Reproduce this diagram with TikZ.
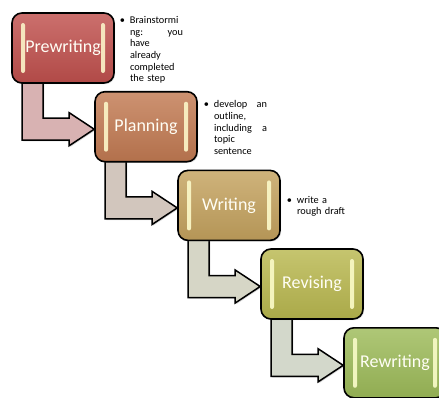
\documentclass[tikz,border=0pt]{standalone}
\usepackage{fontspec}
\setmainfont{Carlito}
\usetikzlibrary{calc,shadows}
\pgfdeclarelayer{background}
\pgfsetlayers{background,main}
\definecolor{cA}{HTML}{C0504D}
\definecolor{cB}{HTML}{C27A52}
\definecolor{cC}{HTML}{C4A25E}
\definecolor{cD}{HTML}{B9B84F}
\definecolor{cE}{HTML}{9DBB59}
\definecolor{aA}{HTML}{D8B2B2}
\definecolor{aB}{HTML}{D2C6BD}
\definecolor{aC}{HTML}{D6D6C6}
\definecolor{aD}{HTML}{D3D8CB}
\newcommand{\jline}[2]{\leavevmode\hbox to 53pt{#1\hfill #2}}
\newcommand{\bulletmark}{\leavevmode\llap{•\hspace{5pt}}}
\tikzset{
  stepbox/.style={draw=black, line width=1.6pt, rounded corners=10pt,
    minimum width=102pt, minimum height=70pt, inner sep=0pt,
    text=white!96!yellow, font=\fontsize{18}{20}\selectfont,
    top color=#1!82!white, bottom color=#1!92!black,
    drop shadow={opacity=0.25, shadow xshift=1.2pt, shadow yshift=-1.2pt},
    path picture={
      \fill[#1!18!white!85!yellow, rounded corners=2pt]
        ([xshift=9pt,yshift=-10pt]path picture bounding box.north west)
        rectangle ([xshift=13pt,yshift=10pt]path picture bounding box.south west);
      \fill[#1!18!white!85!yellow, rounded corners=2pt]
        ([xshift=-13pt,yshift=-10pt]path picture bounding box.north east)
        rectangle ([xshift=-9pt,yshift=10pt]path picture bounding box.south east);
    }},
  note/.style={anchor=west, inner sep=0pt, align=left, text width=53pt,
    font=\fontsize{10.3}{11.7}\selectfont, text=black},
  bent/.style={draw=black, line width=1.5pt, fill=#1, line join=miter,
    drop shadow={opacity=0.3, shadow xshift=1.2pt, shadow yshift=-1.2pt}}
}
\newcommand{\bentarr}[3]{%
  \path let \p1=(#1.south west), \p2=([yshift=-2.5pt]#2.west) in
    [bent=#3] (\x1+11pt,\y1+5pt) -- (\x1+11pt,\y2-11pt) -- (\x2-25pt,\y2-11pt)
    -- (\x2-25pt,\y2-16.5pt) -- (\x2,\y2) -- (\x2-25pt,\y2+16.5pt)
    -- (\x2-25pt,\y2+11pt) -- (\x1+32pt,\y2+11pt) -- (\x1+32pt,\y1+5pt) -- cycle;}
\begin{document}
\begin{tikzpicture}[x=1pt,y=-1pt]
\useasboundingbox (0,0) rectangle (439,397);
\clip (0,0) rectangle (439,397);
\node[stepbox=cA] (p1) at (63,48) {Prewriting};
\node[stepbox=cB] (p2) at (146,126.7) {Planning};
\node[stepbox=cC] (p3) at (229,205.4) {Writing};
\node[stepbox=cD] (p4) at (312,284) {Revising};
\node[stepbox=cE] (p5) at (395,362.8) {Rewriting};
\node[note] (n1) at ([xshift=15pt,yshift=-2pt]p1.east)
  {\bulletmark Brainstormi\\\jline{ng:}{you}\\have\\already\\completed\\the step};
\node[note] (n2) at ([xshift=16pt,yshift=-1pt]p2.east)
  {\bulletmark\jline{develop}{an}\\outline,\\\jline{including}{a}\\topic\\sentence};
\node[note] (n3) at ([xshift=16pt,yshift=-1pt]p3.east)
  {\bulletmark write a\\rough draft};
\begin{pgfonlayer}{background}
\bentarr{p1}{p2}{aA}
\bentarr{p2}{p3}{aB}
\bentarr{p3}{p4}{aC}
\bentarr{p4}{p5}{aD}
\end{pgfonlayer}
\end{tikzpicture}
\end{document}
